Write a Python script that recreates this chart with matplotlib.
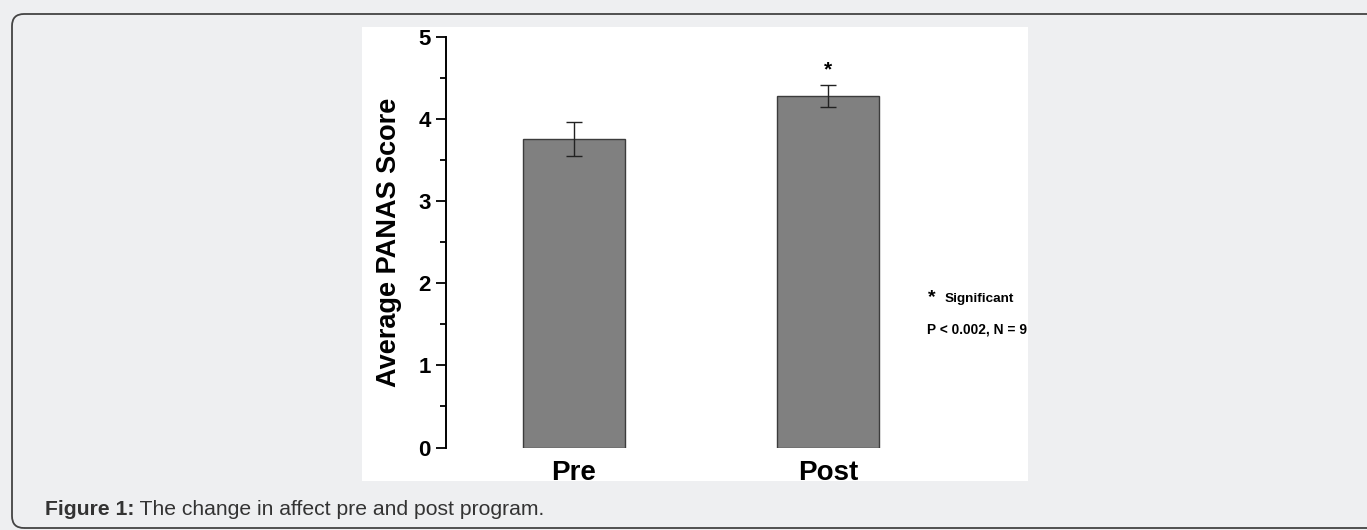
import matplotlib
matplotlib.use("Agg")
import matplotlib.pyplot as plt
from matplotlib.patches import FancyBboxPatch, Rectangle
from matplotlib.transforms import IdentityTransform
from matplotlib.ticker import MultipleLocator

# data
categories = ["Pre", "Post"]
means = [3.76, 4.28]
errors = [0.21, 0.13]
significant = [False, True]

W, H = 1367, 530
fig = plt.figure(figsize=(W / 100, H / 100), dpi=100)
fig.patch.set_facecolor("#eeeff1")

# page frame (rounded box, open at the right), in pixels from bottom-left
frame = FancyBboxPatch((12, 2), 1500, 514, boxstyle="round,pad=0,rounding_size=12",
                       transform=IdentityTransform(), facecolor="none",
                       edgecolor="#444444", linewidth=1.3, zorder=-2)
fig.add_artist(frame)

# white area of the embedded chart image
fig.add_artist(Rectangle((362 / W, (H - 481) / H), (1028 - 362) / W, (481 - 27) / H,
                         transform=fig.transFigure, facecolor="white",
                         edgecolor="none", zorder=-1))

ax = fig.add_axes([446 / W, (H - 447.5) / H, (1028 - 446) / W, (447.5 - 37) / H])
ax.patch.set_alpha(0)

x = list(range(1, len(categories) + 1))
ax.bar(x, means, width=0.4, color="#808080", edgecolor="#3c3c3c", linewidth=1.0, zorder=2)
ax.errorbar(x, means, yerr=errors, fmt="none", ecolor="#222222", elinewidth=1.0,
            capsize=6, capthick=1.0, zorder=3)
for xi, m, e, s in zip(x, means, errors, significant):
    if s:
        ax.text(xi, m + e + 0.07, "*", ha="center", va="bottom", fontsize=15,
                fontweight="bold", family="Liberation Sans")

ax.set_ylim(0, 5)
ax.set_xlim(0.496, 0.496 + (1028 - 446) / 254)
ax.yaxis.set_major_locator(MultipleLocator(1))
ax.yaxis.set_minor_locator(MultipleLocator(0.5))
ax.tick_params(axis="y", which="major", length=7, width=1.3, direction="out", pad=4)
ax.tick_params(axis="y", which="minor", length=4, width=1.3, direction="out")
ax.tick_params(axis="x", length=0, pad=9)
for s in ["top", "right", "bottom"]:
    ax.spines[s].set_visible(False)
ax.spines["left"].set_linewidth(1.4)

ax.set_xticks(x)
ax.set_xticklabels(categories, fontsize=20, fontweight="bold", family="Liberation Sans")
for lab in ax.get_yticklabels():
    lab.set_fontsize(16)
    lab.set_fontweight("bold")
    lab.set_family("Liberation Sans")
ax.set_ylabel("Average PANAS Score", fontsize=19.5, fontweight="bold",
              family="Liberation Sans", labelpad=12)

# significance note
fig.text(928 / W, (H - 302) / H, "*", fontsize=14, fontweight="bold",
         family="Liberation Sans", ha="left", va="baseline")
fig.text(945 / W, (H - 302) / H, "Significant", fontsize=9.7, fontweight="bold",
         family="Liberation Sans", ha="left", va="baseline")
fig.text(927 / W, (H - 334) / H, "P < 0.002, N = 9", fontsize=9.9, fontweight="bold",
         family="Liberation Sans", ha="left", va="baseline")

# caption
t1 = fig.text(45 / W, (H - 515) / H, "Figure 1:", fontsize=15.2, fontweight="bold",
              family="Liberation Sans", color="#333333", ha="left", va="baseline")
ax.annotate(" The change in affect pre and post program.", xy=(1, 0), xycoords=t1,
            xytext=(0, 0), textcoords="offset points", fontsize=15.2,
            family="Liberation Sans", color="#333333", ha="left", va="bottom",
            annotation_clip=False)

fig.savefig("out.png", dpi=100, facecolor=fig.get_facecolor())
